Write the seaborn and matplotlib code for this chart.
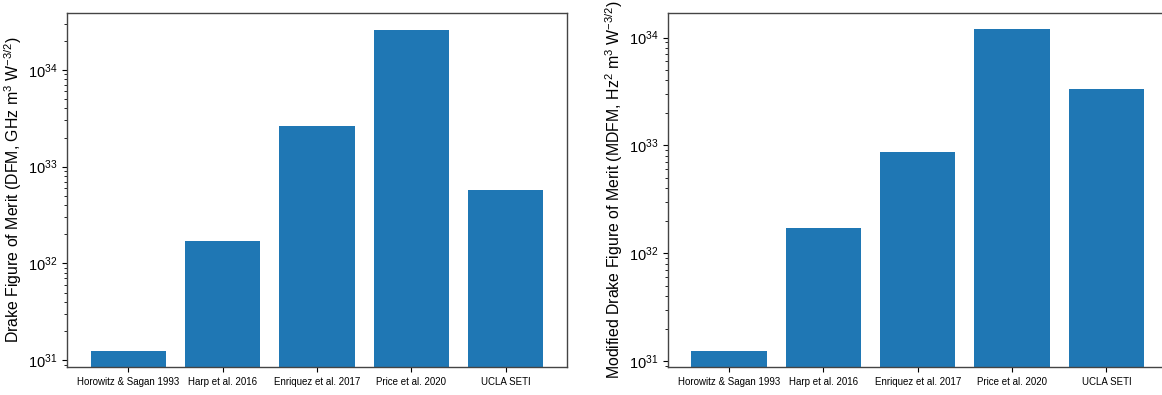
import matplotlib
matplotlib.use("Agg")
import matplotlib.pyplot as plt
import seaborn as sns
import pandas as pd

plt.rcParams['font.family'] = ['Liberation Sans', 'DejaVu Sans']
plt.rcParams['mathtext.fontset'] = 'custom'
plt.rcParams['mathtext.rm'] = 'Liberation Sans'
plt.rcParams['mathtext.it'] = 'Liberation Sans:italic'
plt.rcParams['mathtext.bf'] = 'Liberation Sans:bold'
plt.rcParams['mathtext.sf'] = 'Liberation Sans'

surveys = ["Horowitz & Sagan 1993", "Harp et al. 2016", "Enriquez et al. 2017",
           "Price et al. 2020", "UCLA SETI"]
dfm = [1.23e31, 1.7e32, 2.6e33, 2.6e34, 5.7e32]
mdfm = [1.24e31, 1.7e32, 8.7e32, 1.2e34, 3.35e33]

df = pd.DataFrame({"survey": surveys, "DFM": dfm, "MDFM": mdfm})

fig = plt.figure(figsize=(11.62, 3.95), dpi=100)
ax1 = fig.add_axes([67/1162, 1-367/395, 500/1162, (367-12.7)/395])
ax2 = fig.add_axes([667.7/1162, 1-367/395, 500/1162, (367-12.7)/395])

blue = "#1f77b4"
for ax, col, ylim, lab in [
    (ax1, "DFM", (8.5e30, 3.9e34), r"Drake Figure of Merit (DFM, GHz m$^3$ W$^{-3/2}$)"),
    (ax2, "MDFM", (8.8e30, 1.7e34), r"Modified Drake Figure of Merit (MDFM, Hz$^2$ m$^3$ W$^{-3/2}$)"),
]:
    sns.barplot(data=df, x="survey", y=col, ax=ax, color=blue, saturation=1, width=0.8)
    ax.set_yscale("log")
    ax.set_ylim(*ylim)
    ax.set_xlim(-0.65, 4.65)
    ax.set_xlabel("")
    ax.set_ylabel(lab, fontsize=11.4)
    ax.yaxis.set_label_coords(-0.085, 0.5)
    ax.tick_params(axis="x", labelsize=7)
    ax.tick_params(axis="y", labelsize=10.5)
    for s in ax.spines.values():
        s.set_color("#444444")
        s.set_linewidth(1.0)

fig.savefig("out.png", dpi=100)
